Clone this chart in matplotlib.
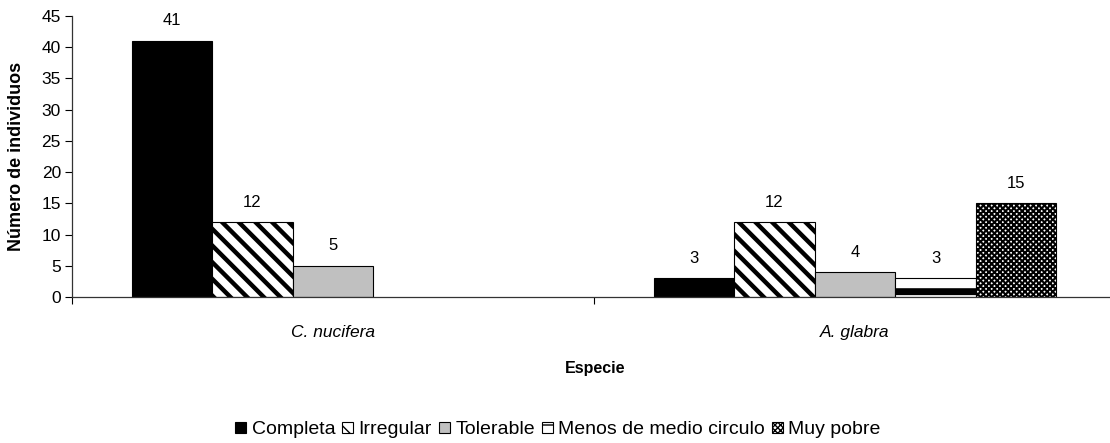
import matplotlib
matplotlib.use('Agg')
import matplotlib.pyplot as plt
from matplotlib.patches import Patch
import numpy as np

plt.rcParams['font.family'] = ['Liberation Sans', 'DejaVu Sans']

# Data
species = ['C. nucifera', 'A. glabra']
categories = ['Completa', 'Irregular', 'Tolerable', 'Menos de medio circulo', 'Muy pobre']
values = {
    'Completa': [41, 3],
    'Irregular': [12, 12],
    'Tolerable': [5, 4],
    'Menos de medio circulo': [0, 3],
    'Muy pobre': [0, 15],
}

# Styles per category: facecolor, hatch, hatch linewidth
styles = {
    'Completa': dict(facecolor='black', hatch=None, hlw=1.0),
    'Irregular': dict(facecolor='white', hatch='\\\\', hlw=3.2),
    'Tolerable': dict(facecolor='#c0c0c0', hatch=None, hlw=1.0),
    'Menos de medio circulo': dict(facecolor='white', hatch='-', hlw=5.0),
    'Muy pobre': dict(facecolor='white', hatch='xxxxxx', hlw=1.5),
}

fig = plt.figure(figsize=(11.1, 4.43), dpi=100)
W, H = 1110, 443
x_left, x_right = 72, 1116
y_bottom, y_top = 297, 16
ax = fig.add_axes([x_left / W, 1 - y_bottom / H, (x_right - x_left) / W, (y_bottom - y_top) / H])

x = np.arange(len(species))
bw = 0.1544
n = len(categories)


def set_hlw(patch, lw):
    if hasattr(patch, 'set_hatch_linewidth'):
        patch.set_hatch_linewidth(lw)


for i, cat in enumerate(categories):
    st = styles[cat]
    pos = x + (i - (n - 1) / 2) * bw
    vals = values[cat]
    for p, v in zip(pos, vals):
        if v <= 0:
            continue
        b = ax.bar(p, v, width=bw, facecolor=st['facecolor'], edgecolor='black',
                   linewidth=0.8, hatch=st['hatch'])
        for patch in b.patches:
            set_hlw(patch, st['hlw'])
        ax.annotate(str(v), (p, v), xytext=(0, 9), textcoords='offset points',
                    ha='center', va='bottom', fontsize=12)

ax.set_xlim(-0.5, 1.5)
ax.set_ylim(0, 45)
ax.set_yticks(np.arange(0, 46, 5))
ax.tick_params(axis='y', direction='out', length=5, width=0.8, labelsize=12.5, pad=3)

ax.set_xticks(x)
ax.set_xticklabels(species, fontstyle='italic', fontsize=12.5)
ax.set_xticks([-0.5, 0.5, 1.5], minor=True)
ax.tick_params(axis='x', which='major', length=0, pad=20)
ax.tick_params(axis='x', which='minor', direction='out', length=5, width=0.8)

for s in ['top', 'right']:
    ax.spines[s].set_visible(False)
for s in ['left', 'bottom']:
    ax.spines[s].set_color('#333333')
    ax.spines[s].set_linewidth(0.9)

ax.set_ylabel('Número de individuos', fontweight='bold', fontsize=13)
ax.yaxis.label.set_va('center')
ax.yaxis.set_label_coords((17 - x_left) / (x_right - x_left), 0.5)
ax.set_xlabel('Especie', fontweight='bold', fontsize=11.5)
ax.xaxis.label.set_va('center')
ax.xaxis.set_label_coords((595 - x_left) / (x_right - x_left), (y_bottom - 368) / (y_bottom - y_top))

handles = []
for cat in categories:
    st = styles[cat]
    h = Patch(facecolor=st['facecolor'], edgecolor='black', linewidth=0.8,
              hatch=st['hatch'], label=cat)
    set_hlw(h, min(st['hlw'], 1.5))
    handles.append(h)

fig.legend(handles=handles, loc='center', bbox_to_anchor=(558 / W, 1 - 430 / H),
           ncol=5, frameon=False, fontsize=14, handlelength=0.55, handleheight=0.55,
           handletextpad=0.3, columnspacing=0.35, borderpad=0)

fig.savefig('out.png', dpi=100)
